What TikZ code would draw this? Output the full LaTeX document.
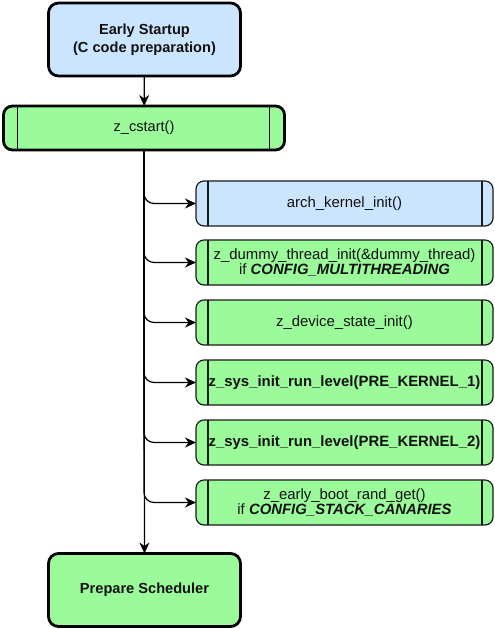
\documentclass[tikz,border=0pt]{standalone}
\usepackage{fontspec}
\setmainfont{Liberation Sans}
\usetikzlibrary{arrows.meta}
\definecolor{blueF}{HTML}{CCE5FF}
\definecolor{greenF}{HTML}{9BFB9B}
\definecolor{txt}{HTML}{111111}
\definecolor{edgeC}{HTML}{1A1A1A}
\begin{document}
\begin{tikzpicture}[x=1pt,y=-1pt,
  every node/.style={outer sep=0pt, inner sep=0pt, text=txt},
  bigbox/.style={draw=black, line width=2.8pt, rounded corners=10pt, minimum width=192pt, minimum height=73pt, align=center, font=\fontsize{14.6}{18}\selectfont\bfseries},
  procbig/.style={draw=black, line width=2.8pt, rounded corners=9pt, minimum width=281pt, minimum height=44pt, align=center, font=\fontsize{14.6}{17}\selectfont},
  proc/.style={draw=edgeC, line width=1.2pt, rounded corners=8pt, minimum width=297pt, minimum height=45pt, align=center, font=\fontsize{14.9}{15.5}\selectfont},
  conn/.style={draw=black, line width=1.2pt, -{Stealth[length=11pt,width=10pt,inset=3.5pt]}},
  branch/.style={conn, rounded corners=10pt}
]
\useasboundingbox (0,0) rectangle (495,629);

\node[bigbox, fill=blueF] (early) at (144.5,39.5) {Early Startup\\(C code preparation)};
\node[procbig, fill=greenF] (zc) at (144,128) {z\_cstart()};
\draw[line width=1.2pt] ([xshift=14pt]zc.north west) -- ([xshift=14pt]zc.south west);
\draw[line width=1.2pt] ([xshift=-15pt]zc.north east) -- ([xshift=-15pt]zc.south east);

\node[proc, fill=blueF] (b1) at (344.5,203.5) {arch\_kernel\_init()};
\node[proc, fill=greenF] (b2) at (344.5,262.5) {z\_dummy\_thread\_init(\&dummy\_thread)\\if \textbf{\textit{CONFIG\_MULTITHREADING}}};
\node[proc, fill=greenF] (b3) at (344.5,322.5) {z\_device\_state\_init()};
\node[proc, fill=greenF] (b4) at (344.5,382.5) {\textbf{z\_sys\_init\_run\_level(PRE\_KERNEL\_1)}};
\node[proc, fill=greenF] (b5) at (344.5,442.5) {\textbf{z\_sys\_init\_run\_level(PRE\_KERNEL\_2)}};
\node[proc, fill=greenF] (b6) at (344.5,502.5) {z\_early\_boot\_rand\_get()\\if \textbf{\textit{CONFIG\_STACK\_CANARIES}}};
\foreach \b in {b1,b2,b3,b4,b5,b6}{
  \draw[line width=1.2pt, edgeC] ([xshift=12pt]\b.north west) -- ([xshift=12pt]\b.south west);
  \draw[line width=1.2pt, edgeC] ([xshift=-11pt]\b.north east) -- ([xshift=-11pt]\b.south east);
}

\node[bigbox, fill=greenF] (prep) at (144.5,590) {Prepare Scheduler};

\draw[conn] (early) -- (zc);
\foreach \b in {b1,b2,b3,b4,b5,b6}{
  \draw[branch] (zc.south) |- (\b.west);
}
\draw[conn] (zc) -- (prep);
\end{tikzpicture}
\end{document}
